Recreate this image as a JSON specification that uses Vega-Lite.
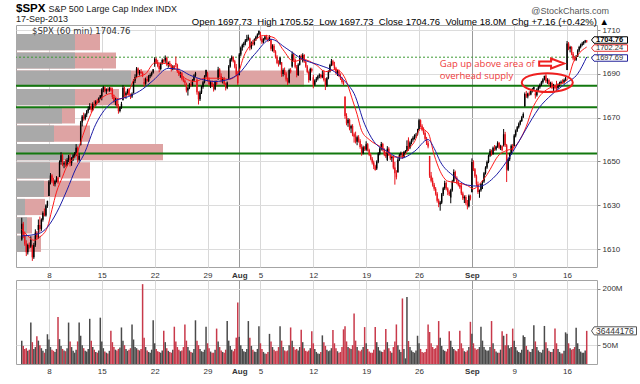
{
"$schema": "https://vega.github.io/schema/vega-lite/v6.json",
"background": "white",
"padding": {"left": 14, "top": 2, "right": 0, "bottom": 0},
"bounds": "flush",
"spacing": 13,
"title": {
 "text": "@StockCharts.com",
 "subtitle": "Open 1697.73\u00a0\u00a0High 1705.52\u00a0\u00a0Low 1697.73\u00a0\u00a0Close 1704.76\u00a0\u00a0Volume 18.0M\u00a0\u00a0Chg +7.16 (+0.42%) ▲",
 "anchor": "end", "frame": "bounds",
 "font": "Liberation Sans", "fontSize": 9, "fontWeight": "normal", "color": "#555",
 "subtitleFont": "Liberation Sans", "subtitleFontSize": 9.5, "subtitleColor": "#000",
 "subtitlePadding": 1, "offset": -24, "dx": -30
},
"datasets": {
 "one": [{}],
 "levels": [{"p":1684.6},{"p":1674.7},{"p":1653.6}],
 "tags": [{"p":1704.76,"s":"close"},{"p":1702.24,"s":"ma1"},{"p":1697.69,"s":"ma2"}],
 "vbp": [
  {"lo":1700.8,"hi":1708.2,"up":590,"tot":840},
  {"lo":1692.4,"hi":1699.8,"up":590,"tot":1000},
  {"lo":1684.1,"hi":1691.5,"up":1150,"tot":2880},
  {"lo":1675.7,"hi":1683.1,"up":590,"tot":1030},
  {"lo":1667.3,"hi":1674.7,"up":460,"tot":590},
  {"lo":1659.0,"hi":1666.4,"up":380,"tot":740},
  {"lo":1650.6,"hi":1658.0,"up":640,"tot":1470},
  {"lo":1642.2,"hi":1649.6,"up":340,"tot":740},
  {"lo":1633.8,"hi":1641.2,"up":280,"tot":740},
  {"lo":1625.5,"hi":1632.9,"up":90,"tot":290},
  {"lo":1617.1,"hi":1624.5,"up":110,"tot":160},
  {"lo":1608.7,"hi":1616.1,"up":110,"tot":250}
 ],
 "red": [
  {"i":0,"v":1619},{"i":4,"v":1616},{"i":8,"v":1614},{"i":12,"v":1615.5},{"i":17,"v":1620},{"i":20,"v":1628},{"i":23,"v":1636},{"i":27,"v":1643},{"i":30,"v":1648},{"i":33,"v":1650.5},{"i":36,"v":1653},{"i":41,"v":1663},{"i":46,"v":1672},{"i":50,"v":1677},{"i":53,"v":1679},{"i":59,"v":1681},{"i":64,"v":1678.5},{"i":69,"v":1679.7},{"i":75,"v":1688},{"i":82,"v":1690},{"i":88,"v":1695},{"i":95,"v":1694.7},{"i":102,"v":1692},{"i":108,"v":1688},{"i":115,"v":1686.5},{"i":121,"v":1688},{"i":130,"v":1688},{"i":137,"v":1687.5},{"i":143,"v":1690},{"i":147,"v":1698},{"i":154,"v":1705},{"i":160,"v":1707.5},{"i":167,"v":1706.5},{"i":173,"v":1701},{"i":180,"v":1695.6},{"i":186,"v":1696.6},{"i":195,"v":1694},{"i":201,"v":1691},{"i":208,"v":1692},{"i":214,"v":1688},{"i":219,"v":1678},{"i":222,"v":1671.5},{"i":225,"v":1664},{"i":230,"v":1660},{"i":238,"v":1656.5},{"i":247,"v":1652},{"i":252,"v":1652},{"i":256,"v":1655.6},{"i":260,"v":1659},{"i":264,"v":1665},{"i":269,"v":1663},{"i":273,"v":1653},{"i":277,"v":1645.5},{"i":282,"v":1641},{"i":286,"v":1640.5},{"i":290,"v":1640},{"i":295,"v":1639},{"i":299,"v":1637.5},{"i":303,"v":1639.6},{"i":308,"v":1644},{"i":316,"v":1653},{"i":321,"v":1655},{"i":325,"v":1656},{"i":329,"v":1659},{"i":334,"v":1666},{"i":338,"v":1674},{"i":342,"v":1679},{"i":349,"v":1683.4},{"i":355,"v":1685},{"i":360,"v":1686.5},{"i":362,"v":1688.5},{"i":365,"v":1695},{"i":368,"v":1698.5},{"i":374,"v":1702.24}
 ],
 "blue": [
  {"i":0,"v":1616},{"i":11,"v":1617},{"i":17,"v":1620},{"i":23,"v":1626.5},{"i":30,"v":1637},{"i":36,"v":1647},{"i":41,"v":1653},{"i":49,"v":1667},{"i":60,"v":1677},{"i":72,"v":1680},{"i":80,"v":1683},{"i":87,"v":1687},{"i":97,"v":1692.5},{"i":104,"v":1692},{"i":111,"v":1689.5},{"i":119,"v":1687.5},{"i":128,"v":1686.5},{"i":137,"v":1687.5},{"i":143,"v":1689.7},{"i":154,"v":1698.8},{"i":165,"v":1705.8},{"i":175,"v":1701.7},{"i":186,"v":1696.6},{"i":197,"v":1694},{"i":207,"v":1691},{"i":215,"v":1685.8},{"i":220,"v":1681},{"i":227,"v":1667},{"i":233,"v":1659.2},{"i":242,"v":1654.6},{"i":251,"v":1651.5},{"i":260,"v":1654.6},{"i":269,"v":1660},{"i":273,"v":1656},{"i":277,"v":1650},{"i":286,"v":1643.3},{"i":295,"v":1639.2},{"i":303,"v":1638.7},{"i":312,"v":1642.3},{"i":321,"v":1650},{"i":329,"v":1659},{"i":338,"v":1669.7},{"i":342,"v":1674},{"i":351,"v":1680.6},{"i":360,"v":1685.6},{"i":368,"v":1690},{"i":374,"v":1697.69}
 ],
 "bars": [
{"i":0,"o":1614.3,"h":1624.3,"l":1613.8,"c":1621.5,"v":62},
{"i":1,"o":1621.5,"h":1622.4,"l":1615.0,"c":1616.2,"v":48},
{"i":2,"o":1616.2,"h":1618.0,"l":1611.5,"c":1612.4,"v":40},
{"i":3,"o":1612.4,"h":1614.0,"l":1606.8,"c":1608.5,"v":42},
{"i":4,"o":1608.5,"h":1612.5,"l":1607.5,"c":1611.8,"v":35},
{"i":5,"o":1611.8,"h":1613.0,"l":1610.2,"c":1611.0,"v":38},
{"i":6,"o":1611.0,"h":1615.8,"l":1610.5,"c":1614.1,"v":110},
{"i":7,"o":1611.5,"h":1612.0,"l":1604.6,"c":1606.2,"v":58},
{"i":8,"o":1606.2,"h":1612.8,"l":1605.5,"c":1611.9,"v":40},
{"i":9,"o":1611.9,"h":1619.0,"l":1611.0,"c":1617.5,"v":45},
{"i":10,"o":1617.5,"h":1618.2,"l":1614.6,"c":1615.4,"v":74},
{"i":11,"o":1618.7,"h":1623.5,"l":1614.7,"c":1621.0,"v":62},
{"i":12,"o":1621.0,"h":1624.8,"l":1617.5,"c":1619.2,"v":50},
{"i":13,"o":1619.2,"h":1624.0,"l":1618.3,"c":1623.4,"v":42},
{"i":14,"o":1623.4,"h":1627.2,"l":1622.5,"c":1626.5,"v":35},
{"i":15,"o":1626.5,"h":1628.5,"l":1624.9,"c":1625.3,"v":30},
{"i":16,"o":1625.3,"h":1630.4,"l":1624.8,"c":1629.9,"v":40},
{"i":17,"o":1629.9,"h":1632.1,"l":1628.8,"c":1631.9,"v":79},
{"i":18,"o":1634.2,"h":1641.5,"l":1634.2,"c":1640.8,"v":65},
{"i":19,"o":1640.8,"h":1644.7,"l":1639.5,"c":1643.6,"v":45},
{"i":20,"o":1643.6,"h":1644.2,"l":1640.2,"c":1641.0,"v":38},
{"i":21,"o":1641.0,"h":1642.5,"l":1638.8,"c":1639.6,"v":35},
{"i":22,"o":1639.6,"h":1641.8,"l":1638.6,"c":1641.2,"v":32},
{"i":23,"o":1641.2,"h":1643.3,"l":1640.4,"c":1642.5,"v":40},
{"i":24,"o":1642.5,"h":1643.0,"l":1639.8,"c":1640.5,"v":125},
{"i":25,"o":1642.9,"h":1650.5,"l":1642.9,"c":1649.8,"v":66},
{"i":26,"o":1649.8,"h":1654.2,"l":1648.5,"c":1652.8,"v":48},
{"i":27,"o":1652.8,"h":1653.5,"l":1647.8,"c":1648.6,"v":40},
{"i":28,"o":1648.6,"h":1650.2,"l":1646.9,"c":1649.4,"v":36},
{"i":29,"o":1649.4,"h":1651.0,"l":1647.5,"c":1648.1,"v":34},
{"i":30,"o":1648.1,"h":1651.5,"l":1647.8,"c":1650.7,"v":42},
{"i":31,"o":1650.7,"h":1653.0,"l":1649.6,"c":1652.3,"v":110},
{"i":32,"o":1651.6,"h":1653.5,"l":1647.7,"c":1649.2,"v":60},
{"i":33,"o":1649.2,"h":1652.0,"l":1648.0,"c":1651.5,"v":45},
{"i":34,"o":1651.5,"h":1653.4,"l":1650.2,"c":1652.8,"v":35},
{"i":35,"o":1652.8,"h":1654.3,"l":1651.5,"c":1653.6,"v":30},
{"i":36,"o":1653.6,"h":1657.9,"l":1652.4,"c":1656.2,"v":38},
{"i":37,"o":1656.2,"h":1656.8,"l":1649.5,"c":1650.8,"v":60},
{"i":38,"o":1650.8,"h":1653.6,"l":1649.9,"c":1652.6,"v":110},
{"i":39,"o":1657.4,"h":1668.5,"l":1657.4,"c":1667.8,"v":75},
{"i":40,"o":1667.8,"h":1671.2,"l":1666.0,"c":1670.5,"v":50},
{"i":41,"o":1670.5,"h":1672.3,"l":1668.6,"c":1669.5,"v":42},
{"i":42,"o":1669.5,"h":1672.0,"l":1668.8,"c":1671.4,"v":35},
{"i":43,"o":1671.4,"h":1673.5,"l":1670.2,"c":1672.9,"v":33},
{"i":44,"o":1672.9,"h":1675.2,"l":1672.0,"c":1674.1,"v":40},
{"i":45,"o":1674.1,"h":1676.6,"l":1673.5,"c":1675.0,"v":120},
{"i":46,"o":1675.3,"h":1676.4,"l":1672.3,"c":1673.5,"v":62},
{"i":47,"o":1673.5,"h":1677.0,"l":1673.0,"c":1676.2,"v":45},
{"i":48,"o":1676.2,"h":1677.8,"l":1675.1,"c":1675.9,"v":38},
{"i":49,"o":1675.9,"h":1678.0,"l":1675.2,"c":1677.4,"v":32},
{"i":50,"o":1677.4,"h":1678.6,"l":1676.4,"c":1677.0,"v":30},
{"i":51,"o":1677.0,"h":1679.3,"l":1676.8,"c":1678.9,"v":36},
{"i":52,"o":1678.9,"h":1680.2,"l":1678.5,"c":1680.2,"v":123},
{"i":53,"o":1679.6,"h":1683.5,"l":1677.9,"c":1682.8,"v":60},
{"i":54,"o":1682.8,"h":1684.5,"l":1681.6,"c":1683.9,"v":42},
{"i":55,"o":1683.9,"h":1684.2,"l":1681.5,"c":1682.0,"v":33},
{"i":56,"o":1682.0,"h":1683.4,"l":1680.8,"c":1683.0,"v":30},
{"i":57,"o":1683.0,"h":1683.8,"l":1681.9,"c":1682.4,"v":28},
{"i":58,"o":1682.4,"h":1684.0,"l":1681.8,"c":1683.5,"v":35},
{"i":59,"o":1683.5,"h":1684.1,"l":1682.0,"c":1682.5,"v":88},
{"i":60,"o":1682.7,"h":1683.7,"l":1678.5,"c":1679.4,"v":58},
{"i":61,"o":1679.4,"h":1680.5,"l":1676.8,"c":1677.5,"v":45},
{"i":62,"o":1677.5,"h":1679.0,"l":1675.6,"c":1678.2,"v":38},
{"i":63,"o":1678.2,"h":1678.8,"l":1674.5,"c":1675.3,"v":36},
{"i":64,"o":1675.3,"h":1676.2,"l":1671.8,"c":1673.0,"v":40},
{"i":65,"o":1673.0,"h":1675.0,"l":1672.4,"c":1674.6,"v":44},
{"i":66,"o":1674.6,"h":1677.2,"l":1674.0,"c":1676.3,"v":97},
{"i":67,"o":1677.9,"h":1684.8,"l":1677.9,"c":1683.6,"v":62},
{"i":68,"o":1683.6,"h":1684.2,"l":1679.5,"c":1680.2,"v":50},
{"i":69,"o":1680.2,"h":1682.0,"l":1678.6,"c":1681.4,"v":40},
{"i":70,"o":1681.4,"h":1683.2,"l":1680.5,"c":1682.8,"v":35},
{"i":71,"o":1682.8,"h":1683.5,"l":1679.8,"c":1680.1,"v":38},
{"i":72,"o":1680.1,"h":1681.0,"l":1678.5,"c":1679.6,"v":42},
{"i":73,"o":1679.6,"h":1681.5,"l":1679.0,"c":1680.9,"v":105},
{"i":74,"o":1681.1,"h":1687.5,"l":1681.1,"c":1686.9,"v":65},
{"i":75,"o":1686.9,"h":1689.8,"l":1685.8,"c":1688.6,"v":45},
{"i":76,"o":1688.6,"h":1693.1,"l":1688.0,"c":1692.4,"v":42},
{"i":77,"o":1692.4,"h":1692.9,"l":1689.6,"c":1690.3,"v":38},
{"i":78,"o":1690.3,"h":1691.8,"l":1689.2,"c":1691.0,"v":36},
{"i":79,"o":1691.0,"h":1692.2,"l":1689.9,"c":1690.4,"v":40},
{"i":80,"o":1690.4,"h":1691.1,"l":1688.5,"c":1689.4,"v":212},
{"i":81,"o":1686.2,"h":1688.0,"l":1684.1,"c":1685.5,"v":70},
{"i":82,"o":1685.5,"h":1688.3,"l":1685.0,"c":1687.6,"v":45},
{"i":83,"o":1687.6,"h":1688.9,"l":1686.4,"c":1686.8,"v":36},
{"i":84,"o":1686.8,"h":1689.5,"l":1686.2,"c":1688.9,"v":32},
{"i":85,"o":1688.9,"h":1690.2,"l":1688.0,"c":1689.5,"v":30},
{"i":86,"o":1689.5,"h":1691.0,"l":1688.8,"c":1690.6,"v":38},
{"i":87,"o":1690.6,"h":1692.1,"l":1690.1,"c":1692.1,"v":116},
{"i":88,"o":1694.4,"h":1697.6,"l":1693.2,"c":1696.8,"v":55},
{"i":89,"o":1696.8,"h":1697.4,"l":1694.5,"c":1695.2,"v":40},
{"i":90,"o":1695.2,"h":1696.4,"l":1693.0,"c":1693.6,"v":34},
{"i":91,"o":1693.6,"h":1694.8,"l":1690.7,"c":1692.2,"v":32},
{"i":92,"o":1692.2,"h":1695.2,"l":1691.6,"c":1694.8,"v":30},
{"i":93,"o":1694.8,"h":1697.0,"l":1694.2,"c":1696.3,"v":36},
{"i":94,"o":1696.3,"h":1696.8,"l":1695.0,"c":1695.5,"v":88},
{"i":95,"o":1696.1,"h":1698.4,"l":1695.0,"c":1697.2,"v":58},
{"i":96,"o":1697.2,"h":1697.8,"l":1693.5,"c":1694.3,"v":42},
{"i":97,"o":1694.3,"h":1695.6,"l":1692.8,"c":1695.0,"v":35},
{"i":98,"o":1695.0,"h":1695.9,"l":1693.2,"c":1693.8,"v":32},
{"i":99,"o":1693.8,"h":1694.5,"l":1691.1,"c":1692.0,"v":30},
{"i":100,"o":1692.0,"h":1694.0,"l":1691.6,"c":1693.5,"v":38},
{"i":101,"o":1693.5,"h":1694.0,"l":1691.8,"c":1692.4,"v":99},
{"i":102,"o":1695.0,"h":1697.9,"l":1693.0,"c":1694.1,"v":60},
{"i":103,"o":1694.1,"h":1694.6,"l":1690.4,"c":1691.2,"v":45},
{"i":104,"o":1691.2,"h":1692.5,"l":1689.0,"c":1689.8,"v":38},
{"i":105,"o":1689.8,"h":1691.0,"l":1688.2,"c":1690.3,"v":34},
{"i":106,"o":1690.3,"h":1690.8,"l":1687.0,"c":1687.6,"v":36},
{"i":107,"o":1687.6,"h":1688.9,"l":1686.2,"c":1686.9,"v":45},
{"i":108,"o":1686.9,"h":1687.5,"l":1684.6,"c":1685.9,"v":105},
{"i":109,"o":1685.2,"h":1686.0,"l":1681.5,"c":1682.4,"v":62},
{"i":110,"o":1682.4,"h":1684.0,"l":1680.1,"c":1683.6,"v":45},
{"i":111,"o":1683.6,"h":1685.8,"l":1683.0,"c":1685.2,"v":36},
{"i":112,"o":1685.2,"h":1686.5,"l":1684.1,"c":1684.8,"v":32},
{"i":113,"o":1684.8,"h":1687.6,"l":1684.3,"c":1687.0,"v":30},
{"i":114,"o":1687.0,"h":1689.8,"l":1686.5,"c":1689.2,"v":40},
{"i":115,"o":1689.2,"h":1690.9,"l":1688.6,"c":1690.3,"v":116},
{"i":116,"o":1687.3,"h":1688.0,"l":1680.5,"c":1681.6,"v":62},
{"i":117,"o":1681.6,"h":1682.0,"l":1676.0,"c":1678.4,"v":50},
{"i":118,"o":1678.4,"h":1682.3,"l":1677.6,"c":1681.5,"v":40},
{"i":119,"o":1681.5,"h":1684.6,"l":1680.8,"c":1684.0,"v":34},
{"i":120,"o":1684.0,"h":1686.8,"l":1683.2,"c":1686.2,"v":32},
{"i":121,"o":1686.2,"h":1689.4,"l":1685.6,"c":1688.8,"v":38},
{"i":122,"o":1688.8,"h":1691.9,"l":1688.3,"c":1691.7,"v":99},
{"i":123,"o":1690.3,"h":1690.9,"l":1686.5,"c":1687.4,"v":55},
{"i":124,"o":1687.4,"h":1688.3,"l":1684.6,"c":1685.2,"v":42},
{"i":125,"o":1685.2,"h":1686.8,"l":1683.5,"c":1686.1,"v":33},
{"i":126,"o":1686.1,"h":1687.0,"l":1684.0,"c":1684.6,"v":30},
{"i":127,"o":1684.6,"h":1685.5,"l":1681.9,"c":1683.0,"v":30},
{"i":128,"o":1683.0,"h":1686.9,"l":1682.5,"c":1686.4,"v":38},
{"i":129,"o":1686.4,"h":1687.0,"l":1684.8,"c":1685.3,"v":94},
{"i":130,"o":1687.9,"h":1693.2,"l":1687.2,"c":1692.0,"v":60},
{"i":131,"o":1692.0,"h":1692.6,"l":1688.4,"c":1689.0,"v":45},
{"i":132,"o":1689.0,"h":1690.2,"l":1686.0,"c":1686.8,"v":36},
{"i":133,"o":1686.8,"h":1688.4,"l":1685.6,"c":1687.9,"v":32},
{"i":134,"o":1687.9,"h":1688.6,"l":1684.8,"c":1685.3,"v":30},
{"i":135,"o":1685.3,"h":1686.0,"l":1682.4,"c":1683.6,"v":38},
{"i":136,"o":1683.6,"h":1686.5,"l":1683.0,"c":1686.0,"v":114},
{"i":137,"o":1687.8,"h":1694.0,"l":1687.5,"c":1693.4,"v":62},
{"i":138,"o":1693.4,"h":1697.2,"l":1692.8,"c":1696.5,"v":48},
{"i":139,"o":1696.5,"h":1698.4,"l":1695.6,"c":1697.6,"v":38},
{"i":140,"o":1697.6,"h":1698.0,"l":1695.2,"c":1695.8,"v":34},
{"i":141,"o":1695.8,"h":1696.4,"l":1692.5,"c":1693.2,"v":40},
{"i":142,"o":1693.2,"h":1694.5,"l":1688.8,"c":1689.6,"v":70},
{"i":143,"o":1689.6,"h":1691.2,"l":1684.9,"c":1685.7,"v":163},
{"i":144,"o":1689.4,"h":1699.5,"l":1689.4,"c":1698.8,"v":72},
{"i":145,"o":1698.8,"h":1702.5,"l":1698.0,"c":1701.9,"v":50},
{"i":146,"o":1701.9,"h":1703.8,"l":1700.6,"c":1703.2,"v":40},
{"i":147,"o":1703.2,"h":1704.6,"l":1702.1,"c":1703.8,"v":34},
{"i":148,"o":1703.8,"h":1705.9,"l":1703.0,"c":1705.2,"v":32},
{"i":149,"o":1705.2,"h":1707.8,"l":1704.5,"c":1705.9,"v":40},
{"i":150,"o":1705.9,"h":1707.9,"l":1705.2,"c":1706.9,"v":114},
{"i":151,"o":1706.1,"h":1706.5,"l":1700.7,"c":1702.0,"v":70},
{"i":152,"o":1702.0,"h":1704.8,"l":1701.2,"c":1704.2,"v":48},
{"i":153,"o":1704.2,"h":1705.5,"l":1702.8,"c":1703.5,"v":38},
{"i":154,"o":1703.5,"h":1706.2,"l":1703.0,"c":1705.8,"v":33},
{"i":155,"o":1705.8,"h":1707.4,"l":1705.0,"c":1706.9,"v":32},
{"i":156,"o":1706.9,"h":1708.5,"l":1706.2,"c":1708.0,"v":40},
{"i":157,"o":1708.0,"h":1709.7,"l":1707.6,"c":1709.7,"v":100},
{"i":158,"o":1708.0,"h":1709.2,"l":1705.2,"c":1706.0,"v":55},
{"i":159,"o":1706.0,"h":1707.0,"l":1703.6,"c":1704.4,"v":40},
{"i":160,"o":1704.4,"h":1706.3,"l":1704.0,"c":1705.8,"v":32},
{"i":161,"o":1705.8,"h":1707.5,"l":1705.2,"c":1707.0,"v":28},
{"i":162,"o":1707.0,"h":1707.8,"l":1705.5,"c":1706.2,"v":27},
{"i":163,"o":1706.2,"h":1706.8,"l":1704.5,"c":1705.4,"v":32},
{"i":164,"o":1705.4,"h":1707.6,"l":1705.0,"c":1707.1,"v":80},
{"i":165,"o":1705.8,"h":1705.8,"l":1700.5,"c":1701.4,"v":60},
{"i":166,"o":1701.4,"h":1703.5,"l":1700.2,"c":1702.8,"v":45},
{"i":167,"o":1702.8,"h":1703.6,"l":1699.5,"c":1700.2,"v":38},
{"i":168,"o":1700.2,"h":1700.8,"l":1697.0,"c":1697.8,"v":34},
{"i":169,"o":1697.8,"h":1698.5,"l":1694.4,"c":1695.0,"v":35},
{"i":170,"o":1695.0,"h":1696.2,"l":1693.3,"c":1694.6,"v":45},
{"i":171,"o":1694.6,"h":1697.8,"l":1694.0,"c":1697.4,"v":100},
{"i":172,"o":1695.3,"h":1695.3,"l":1688.6,"c":1689.9,"v":62},
{"i":173,"o":1689.9,"h":1692.5,"l":1688.8,"c":1691.8,"v":45},
{"i":174,"o":1691.8,"h":1692.9,"l":1689.4,"c":1690.2,"v":36},
{"i":175,"o":1690.2,"h":1690.8,"l":1686.5,"c":1687.4,"v":34},
{"i":176,"o":1687.4,"h":1688.2,"l":1684.9,"c":1686.0,"v":36},
{"i":177,"o":1686.0,"h":1692.4,"l":1685.6,"c":1691.8,"v":50},
{"i":178,"o":1691.8,"h":1692.6,"l":1690.2,"c":1690.9,"v":97},
{"i":179,"o":1693.4,"h":1700.2,"l":1692.8,"c":1698.9,"v":62},
{"i":180,"o":1698.9,"h":1699.6,"l":1695.8,"c":1696.4,"v":45},
{"i":181,"o":1696.4,"h":1697.0,"l":1692.5,"c":1693.2,"v":38},
{"i":182,"o":1693.2,"h":1694.0,"l":1688.4,"c":1689.5,"v":40},
{"i":183,"o":1689.5,"h":1694.8,"l":1689.0,"c":1694.2,"v":36},
{"i":184,"o":1694.2,"h":1698.6,"l":1693.8,"c":1698.1,"v":45},
{"i":185,"o":1698.1,"h":1698.9,"l":1696.9,"c":1697.5,"v":91},
{"i":186,"o":1696.1,"h":1699.4,"l":1695.2,"c":1698.6,"v":58},
{"i":187,"o":1698.6,"h":1699.0,"l":1695.0,"c":1695.6,"v":42},
{"i":188,"o":1695.6,"h":1696.4,"l":1692.8,"c":1693.4,"v":35},
{"i":189,"o":1693.4,"h":1694.0,"l":1690.2,"c":1690.8,"v":33},
{"i":190,"o":1690.8,"h":1691.5,"l":1686.0,"c":1687.2,"v":36},
{"i":191,"o":1687.2,"h":1692.8,"l":1686.8,"c":1692.2,"v":42},
{"i":192,"o":1692.2,"h":1692.8,"l":1690.6,"c":1691.4,"v":87},
{"i":193,"o":1688.4,"h":1689.6,"l":1683.4,"c":1685.0,"v":55},
{"i":194,"o":1685.0,"h":1687.5,"l":1684.5,"c":1687.0,"v":40},
{"i":195,"o":1687.0,"h":1688.6,"l":1686.2,"c":1687.8,"v":32},
{"i":196,"o":1687.8,"h":1689.4,"l":1687.0,"c":1688.9,"v":28},
{"i":197,"o":1688.9,"h":1690.2,"l":1688.0,"c":1689.6,"v":27},
{"i":198,"o":1689.6,"h":1690.0,"l":1687.8,"c":1688.4,"v":32},
{"i":199,"o":1688.4,"h":1691.5,"l":1688.0,"c":1689.5,"v":76},
{"i":200,"o":1690.7,"h":1691.8,"l":1686.5,"c":1687.2,"v":58},
{"i":201,"o":1687.2,"h":1688.0,"l":1682.6,"c":1684.6,"v":48},
{"i":202,"o":1684.6,"h":1688.5,"l":1684.0,"c":1688.0,"v":38},
{"i":203,"o":1688.0,"h":1691.6,"l":1687.5,"c":1691.1,"v":34},
{"i":204,"o":1691.1,"h":1694.6,"l":1690.6,"c":1694.0,"v":36},
{"i":205,"o":1694.0,"h":1696.8,"l":1693.5,"c":1695.8,"v":42},
{"i":206,"o":1695.8,"h":1696.4,"l":1693.6,"c":1694.2,"v":90},
{"i":207,"o":1693.9,"h":1695.5,"l":1691.8,"c":1692.5,"v":55},
{"i":208,"o":1692.5,"h":1693.2,"l":1689.6,"c":1690.4,"v":42},
{"i":209,"o":1690.4,"h":1691.8,"l":1689.0,"c":1691.2,"v":34},
{"i":210,"o":1691.2,"h":1691.9,"l":1688.5,"c":1689.0,"v":30},
{"i":211,"o":1689.0,"h":1690.2,"l":1687.2,"c":1687.8,"v":32},
{"i":212,"o":1687.8,"h":1688.6,"l":1685.5,"c":1686.3,"v":45},
{"i":213,"o":1686.3,"h":1687.0,"l":1684.8,"c":1685.4,"v":92},
{"i":214,"o":1679.6,"h":1679.6,"l":1669.5,"c":1670.8,"v":100},
{"i":215,"o":1670.8,"h":1672.0,"l":1666.5,"c":1667.4,"v":60},
{"i":216,"o":1667.4,"h":1669.8,"l":1665.8,"c":1669.0,"v":45},
{"i":217,"o":1669.0,"h":1669.5,"l":1664.2,"c":1665.0,"v":42},
{"i":218,"o":1665.0,"h":1666.8,"l":1663.0,"c":1666.2,"v":40},
{"i":219,"o":1666.2,"h":1667.0,"l":1661.5,"c":1662.4,"v":50},
{"i":220,"o":1662.4,"h":1663.2,"l":1658.6,"c":1661.3,"v":134},
{"i":221,"o":1661.2,"h":1663.6,"l":1658.2,"c":1659.0,"v":62},
{"i":222,"o":1659.0,"h":1661.8,"l":1657.4,"c":1661.0,"v":45},
{"i":223,"o":1661.0,"h":1662.0,"l":1658.6,"c":1659.4,"v":36},
{"i":224,"o":1659.4,"h":1660.2,"l":1655.8,"c":1656.6,"v":34},
{"i":225,"o":1656.6,"h":1657.9,"l":1652.6,"c":1653.8,"v":38},
{"i":226,"o":1653.8,"h":1657.2,"l":1653.2,"c":1656.5,"v":45},
{"i":227,"o":1656.5,"h":1657.0,"l":1654.8,"c":1655.8,"v":98},
{"i":228,"o":1655.3,"h":1659.2,"l":1654.8,"c":1657.9,"v":55},
{"i":229,"o":1657.9,"h":1658.4,"l":1654.6,"c":1655.2,"v":40},
{"i":230,"o":1655.2,"h":1655.8,"l":1652.4,"c":1653.0,"v":33},
{"i":231,"o":1653.0,"h":1653.9,"l":1650.5,"c":1651.2,"v":30},
{"i":232,"o":1651.2,"h":1652.0,"l":1648.6,"c":1649.5,"v":30},
{"i":233,"o":1649.5,"h":1650.4,"l":1646.5,"c":1647.8,"v":38},
{"i":234,"o":1647.8,"h":1648.5,"l":1645.8,"c":1646.1,"v":98},
{"i":235,"o":1646.8,"h":1650.5,"l":1646.1,"c":1649.9,"v":58},
{"i":236,"o":1649.9,"h":1654.2,"l":1649.2,"c":1653.6,"v":45},
{"i":237,"o":1653.6,"h":1656.5,"l":1652.8,"c":1655.8,"v":36},
{"i":238,"o":1655.8,"h":1658.9,"l":1655.0,"c":1658.0,"v":33},
{"i":239,"o":1658.0,"h":1658.5,"l":1654.6,"c":1655.2,"v":32},
{"i":240,"o":1655.2,"h":1656.0,"l":1652.4,"c":1653.1,"v":38},
{"i":241,"o":1653.1,"h":1654.3,"l":1651.6,"c":1652.4,"v":93},
{"i":242,"o":1650.7,"h":1657.0,"l":1650.2,"c":1655.8,"v":58},
{"i":243,"o":1655.8,"h":1656.5,"l":1652.5,"c":1653.2,"v":42},
{"i":244,"o":1653.2,"h":1654.0,"l":1650.6,"c":1651.4,"v":34},
{"i":245,"o":1651.4,"h":1652.8,"l":1649.8,"c":1652.0,"v":30},
{"i":246,"o":1652.0,"h":1652.6,"l":1646.4,"c":1647.2,"v":45},
{"i":247,"o":1647.2,"h":1649.8,"l":1639.4,"c":1644.6,"v":60},
{"i":248,"o":1644.6,"h":1646.0,"l":1641.8,"c":1642.8,"v":105},
{"i":249,"o":1645.0,"h":1651.5,"l":1645.0,"c":1650.8,"v":50},
{"i":250,"o":1650.8,"h":1653.6,"l":1650.2,"c":1653.0,"v":38},
{"i":251,"o":1653.0,"h":1654.5,"l":1652.1,"c":1653.8,"v":32},
{"i":252,"o":1653.8,"h":1654.2,"l":1651.2,"c":1652.0,"v":174},
{"i":253,"o":1652.0,"h":1654.8,"l":1651.5,"c":1654.3,"v":40},
{"i":254,"o":1654.3,"h":1655.2,"l":1653.8,"c":1654.8,"v":15},
{"i":255,"o":1654.8,"h":1659.6,"l":1654.5,"c":1657.0,"v":178},
{"i":256,"o":1659.9,"h":1661.0,"l":1654.8,"c":1656.2,"v":61},
{"i":257,"o":1656.2,"h":1659.2,"l":1655.6,"c":1658.6,"v":45},
{"i":258,"o":1658.6,"h":1660.4,"l":1657.8,"c":1659.9,"v":36},
{"i":259,"o":1659.9,"h":1661.5,"l":1659.0,"c":1660.8,"v":32},
{"i":260,"o":1660.8,"h":1662.4,"l":1660.0,"c":1661.9,"v":30},
{"i":261,"o":1661.9,"h":1663.0,"l":1660.8,"c":1662.2,"v":36},
{"i":262,"o":1662.2,"h":1664.9,"l":1661.8,"c":1663.5,"v":75},
{"i":263,"o":1664.3,"h":1669.5,"l":1664.0,"c":1668.8,"v":55},
{"i":264,"o":1668.8,"h":1669.2,"l":1665.5,"c":1666.3,"v":40},
{"i":265,"o":1666.3,"h":1667.0,"l":1663.8,"c":1664.5,"v":32},
{"i":266,"o":1664.5,"h":1665.6,"l":1662.2,"c":1663.0,"v":30},
{"i":267,"o":1663.0,"h":1663.8,"l":1659.6,"c":1660.4,"v":32},
{"i":268,"o":1660.4,"h":1661.2,"l":1657.5,"c":1658.3,"v":40},
{"i":269,"o":1658.3,"h":1659.4,"l":1656.0,"c":1656.8,"v":105},
{"i":270,"o":1652.5,"h":1652.5,"l":1642.5,"c":1643.6,"v":85},
{"i":271,"o":1643.6,"h":1645.2,"l":1640.4,"c":1641.2,"v":55},
{"i":272,"o":1641.2,"h":1642.6,"l":1638.5,"c":1639.4,"v":45},
{"i":273,"o":1639.4,"h":1640.2,"l":1636.6,"c":1637.5,"v":40},
{"i":274,"o":1637.5,"h":1638.3,"l":1634.4,"c":1635.2,"v":42},
{"i":275,"o":1635.2,"h":1636.0,"l":1631.2,"c":1632.1,"v":50},
{"i":276,"o":1632.1,"h":1633.0,"l":1629.1,"c":1630.5,"v":114},
{"i":277,"o":1630.3,"h":1632.0,"l":1627.5,"c":1631.2,"v":70},
{"i":278,"o":1631.2,"h":1635.6,"l":1630.5,"c":1635.0,"v":48},
{"i":279,"o":1635.0,"h":1638.4,"l":1634.2,"c":1637.8,"v":38},
{"i":280,"o":1637.8,"h":1641.2,"l":1637.0,"c":1640.2,"v":35},
{"i":281,"o":1640.2,"h":1640.9,"l":1636.8,"c":1637.6,"v":33},
{"i":282,"o":1637.6,"h":1638.2,"l":1634.6,"c":1636.0,"v":40},
{"i":283,"o":1636.0,"h":1636.8,"l":1634.2,"c":1635.0,"v":87},
{"i":284,"o":1633.5,"h":1637.5,"l":1630.9,"c":1636.8,"v":62},
{"i":285,"o":1636.8,"h":1641.6,"l":1636.2,"c":1641.0,"v":45},
{"i":286,"o":1641.0,"h":1646.4,"l":1640.5,"c":1645.2,"v":40},
{"i":287,"o":1645.2,"h":1645.8,"l":1641.8,"c":1642.5,"v":36},
{"i":288,"o":1642.5,"h":1643.2,"l":1639.6,"c":1640.4,"v":34},
{"i":289,"o":1640.4,"h":1641.5,"l":1638.6,"c":1639.2,"v":40},
{"i":290,"o":1639.2,"h":1640.0,"l":1637.5,"c":1638.2,"v":88},
{"i":291,"o":1638.9,"h":1640.1,"l":1634.6,"c":1635.4,"v":55},
{"i":292,"o":1635.4,"h":1636.2,"l":1632.4,"c":1633.2,"v":42},
{"i":293,"o":1633.2,"h":1634.5,"l":1631.0,"c":1633.8,"v":34},
{"i":294,"o":1633.8,"h":1634.6,"l":1630.2,"c":1631.0,"v":32},
{"i":295,"o":1631.0,"h":1632.4,"l":1628.1,"c":1629.5,"v":36},
{"i":296,"o":1629.5,"h":1634.9,"l":1629.0,"c":1634.3,"v":45},
{"i":297,"o":1634.3,"h":1634.8,"l":1632.2,"c":1633.0,"v":112},
{"i":298,"o":1636.0,"h":1651.4,"l":1635.8,"c":1649.8,"v":80},
{"i":299,"o":1649.8,"h":1650.5,"l":1645.6,"c":1646.4,"v":55},
{"i":300,"o":1646.4,"h":1647.0,"l":1642.5,"c":1643.2,"v":42},
{"i":301,"o":1643.2,"h":1644.0,"l":1638.8,"c":1639.6,"v":38},
{"i":302,"o":1639.6,"h":1640.8,"l":1635.2,"c":1636.0,"v":40},
{"i":303,"o":1636.0,"h":1637.2,"l":1633.4,"c":1636.8,"v":45},
{"i":304,"o":1636.8,"h":1640.2,"l":1636.2,"c":1639.8,"v":99},
{"i":305,"o":1640.7,"h":1641.5,"l":1637.4,"c":1640.8,"v":62},
{"i":306,"o":1640.8,"h":1645.2,"l":1640.2,"c":1644.6,"v":45},
{"i":307,"o":1644.6,"h":1647.8,"l":1644.0,"c":1647.2,"v":38},
{"i":308,"o":1647.2,"h":1650.4,"l":1646.6,"c":1649.8,"v":35},
{"i":309,"o":1649.8,"h":1653.2,"l":1649.2,"c":1652.6,"v":36},
{"i":310,"o":1652.6,"h":1655.7,"l":1652.0,"c":1654.9,"v":45},
{"i":311,"o":1654.9,"h":1655.4,"l":1652.6,"c":1653.1,"v":114},
{"i":312,"o":1653.3,"h":1656.8,"l":1653.1,"c":1656.2,"v":55},
{"i":313,"o":1656.2,"h":1657.5,"l":1654.8,"c":1655.4,"v":40},
{"i":314,"o":1655.4,"h":1657.2,"l":1654.9,"c":1656.8,"v":33},
{"i":315,"o":1656.8,"h":1659.2,"l":1656.2,"c":1658.4,"v":30},
{"i":316,"o":1658.4,"h":1658.9,"l":1655.6,"c":1656.3,"v":30},
{"i":317,"o":1656.3,"h":1657.6,"l":1655.2,"c":1656.9,"v":38},
{"i":318,"o":1656.9,"h":1657.4,"l":1654.6,"c":1655.1,"v":87},
{"i":319,"o":1657.4,"h":1664.8,"l":1656.8,"c":1662.4,"v":75},
{"i":320,"o":1662.4,"h":1663.5,"l":1656.6,"c":1657.4,"v":50},
{"i":321,"o":1657.4,"h":1658.0,"l":1640.6,"c":1646.2,"v":80},
{"i":322,"o":1646.2,"h":1651.8,"l":1645.6,"c":1651.0,"v":50},
{"i":323,"o":1651.0,"h":1654.0,"l":1650.2,"c":1653.6,"v":42},
{"i":324,"o":1653.6,"h":1657.8,"l":1653.0,"c":1657.2,"v":45},
{"i":325,"o":1657.2,"h":1658.0,"l":1654.6,"c":1655.2,"v":94},
{"i":326,"o":1656.9,"h":1662.5,"l":1656.9,"c":1661.8,"v":62},
{"i":327,"o":1661.8,"h":1664.6,"l":1661.0,"c":1664.0,"v":45},
{"i":328,"o":1664.0,"h":1666.2,"l":1663.4,"c":1665.6,"v":36},
{"i":329,"o":1665.6,"h":1667.8,"l":1665.0,"c":1667.2,"v":32},
{"i":330,"o":1667.2,"h":1669.0,"l":1666.5,"c":1668.5,"v":30},
{"i":331,"o":1668.5,"h":1670.8,"l":1668.0,"c":1670.2,"v":38},
{"i":332,"o":1670.2,"h":1672.4,"l":1669.8,"c":1671.7,"v":76},
{"i":333,"o":1675.1,"h":1681.5,"l":1675.1,"c":1680.8,"v":72},
{"i":334,"o":1680.8,"h":1682.2,"l":1679.0,"c":1679.6,"v":48},
{"i":335,"o":1679.6,"h":1681.4,"l":1678.8,"c":1681.0,"v":38},
{"i":336,"o":1681.0,"h":1682.0,"l":1680.0,"c":1680.6,"v":33},
{"i":337,"o":1680.6,"h":1682.6,"l":1680.2,"c":1682.2,"v":32},
{"i":338,"o":1682.2,"h":1683.6,"l":1681.5,"c":1683.0,"v":40},
{"i":339,"o":1683.0,"h":1684.1,"l":1682.6,"c":1684.0,"v":103},
{"i":340,"o":1681.0,"h":1682.0,"l":1678.7,"c":1680.2,"v":60},
{"i":341,"o":1680.2,"h":1683.4,"l":1679.6,"c":1682.8,"v":45},
{"i":342,"o":1682.8,"h":1684.5,"l":1682.0,"c":1683.9,"v":36},
{"i":343,"o":1683.9,"h":1685.6,"l":1683.2,"c":1685.0,"v":32},
{"i":344,"o":1685.0,"h":1686.8,"l":1684.4,"c":1686.2,"v":30},
{"i":345,"o":1686.2,"h":1688.0,"l":1685.5,"c":1687.4,"v":38},
{"i":346,"o":1687.4,"h":1689.1,"l":1687.0,"c":1689.1,"v":101},
{"i":347,"o":1689.2,"h":1690.0,"l":1685.8,"c":1686.6,"v":58},
{"i":348,"o":1686.6,"h":1688.0,"l":1685.4,"c":1687.2,"v":42},
{"i":349,"o":1687.2,"h":1687.8,"l":1684.6,"c":1685.2,"v":35},
{"i":350,"o":1685.2,"h":1686.4,"l":1683.5,"c":1685.8,"v":32},
{"i":351,"o":1685.8,"h":1686.5,"l":1683.0,"c":1683.8,"v":32},
{"i":352,"o":1683.8,"h":1685.4,"l":1682.0,"c":1684.6,"v":40},
{"i":353,"o":1684.6,"h":1685.1,"l":1682.8,"c":1683.4,"v":94},
{"i":354,"o":1685.0,"h":1686.8,"l":1682.2,"c":1683.5,"v":55},
{"i":355,"o":1683.5,"h":1685.6,"l":1683.0,"c":1685.0,"v":40},
{"i":356,"o":1685.0,"h":1686.4,"l":1684.2,"c":1685.8,"v":32},
{"i":357,"o":1685.8,"h":1687.0,"l":1685.2,"c":1686.4,"v":28},
{"i":358,"o":1686.4,"h":1687.5,"l":1685.6,"c":1686.0,"v":28},
{"i":359,"o":1686.0,"h":1687.8,"l":1685.5,"c":1687.2,"v":35},
{"i":360,"o":1687.2,"h":1688.7,"l":1686.8,"c":1688.0,"v":84},
{"i":361,"o":1691.7,"h":1705.0,"l":1691.7,"c":1703.8,"v":80},
{"i":362,"o":1703.8,"h":1704.5,"l":1700.8,"c":1701.5,"v":55},
{"i":363,"o":1701.5,"h":1702.8,"l":1699.8,"c":1702.2,"v":42},
{"i":364,"o":1702.2,"h":1702.6,"l":1698.5,"c":1699.2,"v":38},
{"i":365,"o":1699.2,"h":1700.0,"l":1696.2,"c":1697.0,"v":40},
{"i":366,"o":1697.0,"h":1698.2,"l":1695.8,"c":1696.4,"v":45},
{"i":367,"o":1696.4,"h":1698.6,"l":1695.9,"c":1697.6,"v":96},
{"i":368,"o":1697.7,"h":1701.2,"l":1697.7,"c":1700.6,"v":55},
{"i":369,"o":1700.6,"h":1702.8,"l":1700.0,"c":1702.2,"v":40},
{"i":370,"o":1702.2,"h":1703.8,"l":1701.6,"c":1703.2,"v":33},
{"i":371,"o":1703.2,"h":1704.6,"l":1702.6,"c":1703.9,"v":30},
{"i":372,"o":1703.9,"h":1705.0,"l":1703.2,"c":1704.6,"v":30},
{"i":373,"o":1704.6,"h":1705.5,"l":1704.0,"c":1705.2,"v":36},
{"i":374,"o":1705.2,"h":1705.4,"l":1704.2,"c":1704.8,"v":88}
 ]
},
"vconcat": [
 {
  "width": 581, "height": 242,
  "title": {
   "text": "$SPX",
   "subtitle": ["\u200b\u00a0\u00a0\u00a0\u00a0\u00a0\u00a0\u00a0\u00a0\u00a0\u00a0\u00a0\u00a0\u00a0S&P 500 Large Cap Index INDX", "17-Sep-2013"],
   "anchor": "start", "frame": "group",
   "font": "Liberation Sans", "fontSize": 11.5, "fontWeight": "bold", "color": "#000",
   "subtitleFont": "Liberation Sans", "subtitleFontSize": 9, "subtitleColor": "#222",
   "subtitlePadding": -10, "subtitleLineHeight": 10.5, "offset": 1
  },
  "resolve": {"scale": {"x": "independent"}},
  "layer": [
   {
    "data": {"name": "vbp"},
    "layer": [
     {"mark": {"type": "rect", "color": "#dea3a3"},
      "encoding": {
       "x": {"field": "tot", "type": "quantitative", "scale": {"domain": [0, 5810], "nice": false}, "axis": null},
       "x2": {"datum": 0},
       "y": {"field": "lo", "type": "quantitative", "scale": {"domain": [1601.8, 1712.3], "nice": false, "zero": false},
             "axis": {"orient": "right", "title": null, "values": [1610,1620,1630,1640,1650,1660,1670,1680,1690,1700,1710],
                      "labelExpr": "datum.value == 1700 ? '' : datum.value", "tickSize": 3, "labelPadding": 2, "grid": true}},
       "y2": {"field": "hi"}}},
     {"mark": {"type": "rect", "color": "#a9a9a9"},
      "encoding": {
       "x": {"field": "up", "type": "quantitative"},
       "x2": {"datum": 0},
       "y": {"field": "lo", "type": "quantitative", "title": null},
       "y2": {"field": "hi"}}}
    ]
   },
   {
    "layer": [
     {"data": {"name": "levels"}, "mark": {"type": "rule", "color": "#13780f", "strokeWidth": 2},
      "encoding": {"y": {"field": "p", "type": "quantitative", "title": null}}},
     {"data": {"name": "one"}, "mark": {"type": "rule", "color": "#3d9a35", "strokeWidth": 1, "strokeDash": [2, 2]},
      "encoding": {"y": {"datum": 1697.6, "type": "quantitative"}}},
     {"data": {"name": "bars"}, "mark": {"type": "rule", "strokeWidth": 1},
      "encoding": {
       "x": {"field": "i", "type": "quantitative", "scale": {"domain": [-0.5, 377.5], "nice": false, "zero": false},
             "axis": {"orient": "bottom", "title": null, "values": [18,53,88,123,144,158,193,228,263,298,326,361],
                      "labelExpr": "['8','15','22','29','Aug','5','12','19','26','Sep','9','16'][indexof([18,53,88,123,144,158,193,228,263,298,326,361], datum.value)]",
                      "labelFontWeight": {"condition": {"test": "datum.value == 144 || datum.value == 298", "value": "bold"}, "value": "normal"},
                      "gridColor": {"condition": {"test": "datum.value == 144 || datum.value == 298", "value": "#9a9a9a"}, "value": "#d8d8d8"},
                      "ticks": false, "labelPadding": 4, "grid": true, "labelOverlap": false, "labelFlush": false}},
       "y": {"field": "l", "type": "quantitative", "title": null},
       "y2": {"field": "h"},
       "color": {"condition": {"test": "datum.c < datum.o", "value": "#e8131b"}, "value": "#000000"}}},
     {"data": {"name": "bars"}, "mark": {"type": "bar", "size": 1.4, "orient": "vertical"},
      "encoding": {
       "x": {"field": "i", "type": "quantitative"},
       "y": {"field": "o", "type": "quantitative", "title": null},
       "y2": {"field": "c"},
       "color": {"condition": {"test": "datum.c < datum.o", "value": "#e8131b"}, "value": "#000000"}}},
     {"data": {"name": "red"}, "mark": {"type": "line", "color": "#ff1a1a", "strokeWidth": 1, "interpolate": "monotone"},
      "encoding": {"x": {"field": "i", "type": "quantitative"}, "y": {"field": "v", "type": "quantitative", "title": null}}},
     {"data": {"name": "blue"}, "mark": {"type": "line", "color": "#1c1ca6", "strokeWidth": 1, "interpolate": "monotone"},
      "encoding": {"x": {"field": "i", "type": "quantitative"}, "y": {"field": "v", "type": "quantitative", "title": null}}},
     {"data": {"name": "one"}, "mark": {"type": "text", "text": "Gap up above area of\noverhead supply", "lineBreak": "\n", "align": "left", "baseline": "top",
               "font": "Open Sans", "fontSize": 9.5, "lineHeight": 12.5, "color": "#ee3b3b"},
      "encoding": {"x": {"datum": 276.7, "type": "quantitative"}, "y": {"datum": 1697.0, "type": "quantitative"}}},
     {"data": {"name": "one"}, "mark": {"type": "point", "shape": "M -1 -0.17 L -0.05 -0.17 L -0.05 -0.4 L 1 0 L -0.05 0.4 L -0.05 0.17 L -1 0.17 Z",
               "size": 625, "filled": true, "fill": "#ffffff", "stroke": "#ee2020", "strokeWidth": 2, "opacity": 1},
      "encoding": {"x": {"datum": 350.8, "type": "quantitative"}, "y": {"datum": 1694.7, "type": "quantitative"}}},
     {"data": {"name": "one"}, "mark": {"type": "point", "shape": "M -1 0 C -1 -0.2044 -0.5523 -0.37 0 -0.37 C 0.5523 -0.37 1 -0.2044 1 0 C 1 0.2044 0.5523 0.37 0 0.37 C -0.5523 0.37 -1 0.2044 -1 0 Z",
               "size": 2601, "filled": false, "stroke": "#ee2020", "strokeWidth": 2, "opacity": 1},
      "encoding": {"x": {"datum": 347.9, "type": "quantitative"}, "y": {"datum": 1686.0, "type": "quantitative"}}},
     {"data": {"name": "one"}, "mark": {"type": "text", "text": "$SPX (60 min) 1704.76", "align": "left", "baseline": "middle", "dx": 11, "dy": 6,
               "font": "DejaVu Sans", "fontSize": 8.5, "color": "#333"},
      "encoding": {"x": {"datum": -0.5, "type": "quantitative"}, "y": {"datum": 1712.3, "type": "quantitative"}}},
     {"data": {"name": "tags"}, "transform": [{"filter": "datum.s != 'close'"}],
      "mark": {"type": "point", "shape": "M -1 0 L -0.86 -0.18 L 1 -0.18 L 1 0.18 L -0.86 0.18 Z",
               "size": 1296, "filled": true, "fill": "#ffffff", "strokeWidth": 1, "xOffset": 17.5, "yOffset": 1, "opacity": 1},
      "encoding": {"x": {"datum": 377.5, "type": "quantitative"}, "y": {"field": "p", "type": "quantitative", "title": null},
                   "stroke": {"field": "s", "type": "nominal", "scale": {"domain": ["close", "ma1", "ma2"], "range": ["#000000", "#e03030", "#22229a"]}, "legend": null}}},
     {"data": {"name": "tags"}, "transform": [{"filter": "datum.s != 'close'"}],
      "mark": {"type": "text", "align": "left", "baseline": "middle", "dx": 4, "yOffset": 1, "font": "Liberation Sans", "fontSize": 7.5, "color": "#333"},
      "encoding": {"x": {"datum": 377.5, "type": "quantitative"}, "y": {"field": "p", "type": "quantitative", "title": null},
                   "text": {"field": "p", "type": "quantitative", "format": ".2f"}}},
     {"data": {"name": "tags"}, "transform": [{"filter": "datum.s == 'close'"}],
      "mark": {"type": "point", "shape": "M -1 0 L -0.86 -0.18 L 1 -0.18 L 1 0.18 L -0.86 0.18 Z",
               "size": 1296, "filled": true, "fill": "#ffffff", "stroke": "#000000", "strokeWidth": 1, "xOffset": 17.5, "yOffset": -1.5, "opacity": 1},
      "encoding": {"x": {"datum": 377.5, "type": "quantitative"}, "y": {"field": "p", "type": "quantitative", "title": null}}},
     {"data": {"name": "tags"}, "transform": [{"filter": "datum.s == 'close'"}],
      "mark": {"type": "text", "align": "left", "baseline": "middle", "dx": 4, "yOffset": -1.5, "font": "Liberation Sans", "fontSize": 7.5, "fontWeight": "bold", "color": "#000"},
      "encoding": {"x": {"datum": 377.5, "type": "quantitative"}, "y": {"field": "p", "type": "quantitative", "title": null},
                   "text": {"field": "p", "type": "quantitative", "format": ".2f"}}}
    ]
   }
  ]
 },
 {
  "width": 581, "height": 84,
  "layer": [
   {"data": {"name": "bars"}, "mark": {"type": "bar", "size": 1.5, "orient": "vertical"},
    "encoding": {
     "x": {"field": "i", "type": "quantitative", "scale": {"domain": [-0.5, 377.5], "nice": false, "zero": false},
           "axis": {"orient": "bottom", "title": null, "values": [18,53,88,123,144,158,193,228,263,298,326,361],
                    "labelExpr": "['8','15','22','29','Aug','5','12','19','26','Sep','9','16'][indexof([18,53,88,123,144,158,193,228,263,298,326,361], datum.value)]",
                    "labelFontWeight": {"condition": {"test": "datum.value == 144 || datum.value == 298", "value": "bold"}, "value": "normal"},
                    "gridColor": {"condition": {"test": "datum.value == 144 || datum.value == 298", "value": "#9a9a9a"}, "value": "#d8d8d8"},
                    "ticks": false, "labelPadding": 3, "grid": true, "labelOverlap": false, "labelFlush": false}},
     "y": {"field": "v", "type": "quantitative", "scale": {"domain": [0, 223], "nice": false},
           "axis": {"orient": "right", "title": null, "values": [50, 100, 150, 200], "labelExpr": "datum.value + 'M'", "tickSize": 3, "labelPadding": 2, "grid": true}},
     "color": {"condition": {"test": "datum.c < datum.o", "value": "#c8394a"}, "value": "#4a4a4a"}}},
   {"data": {"name": "one"}, "mark": {"type": "point", "shape": "M -1 0 L -0.88 -0.18 L 1 -0.18 L 1 0.18 L -0.88 0.18 Z",
             "size": 2025, "filled": true, "fill": "#ffffff", "stroke": "#555", "strokeWidth": 1, "xOffset": 22, "opacity": 1},
    "encoding": {"x": {"datum": 377.5, "type": "quantitative"}, "y": {"datum": 88, "type": "quantitative"}}},
   {"data": {"name": "one"}, "mark": {"type": "text", "text": "36444176", "align": "left", "baseline": "middle", "dx": 4, "font": "Liberation Sans", "fontSize": 8.5, "color": "#333"},
    "encoding": {"x": {"datum": 377.5, "type": "quantitative"}, "y": {"datum": 88, "type": "quantitative"}}}
  ]
 }
],
"config": {
 "view": {"stroke": "#a4a4a4"},
 "axis": {"labelFont": "Liberation Sans", "labelFontSize": 8, "labelColor": "#333", "gridColor": "#dcdcdc", "tickColor": "#888", "domain": false}
}
}
